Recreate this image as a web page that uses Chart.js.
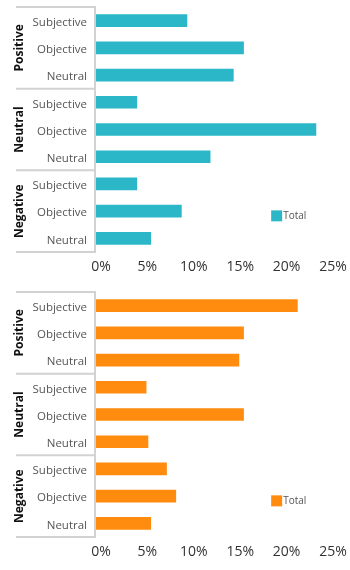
<!DOCTYPE html>
<html lang="en">
<head>
<meta charset="UTF-8">
<title>Sentiment by group</title>
<style>
  body { margin: 0; background: #fff; }
  .box { position: relative; width: 350px; height: 285px; }
</style>
</head>
<body>
<script src="https://cdn.jsdelivr.net/npm/chart.js@4.4.0/dist/chart.umd.min.js"></script>
<div class="box"><canvas id="chartTop"></canvas></div>
<div class="box"><canvas id="chartBottom"></canvas></div>
<script>
    var groups = ['Positive', 'Neutral', 'Negative'];
    var subLabels = ['Subjective', 'Objective', 'Neutral'];
    var xTicks = [0, 5, 10, 15, 20, 25];
    var topValues = [9.8, 15.9, 14.8, 4.4, 23.7, 12.3, 4.4, 9.2, 5.9];
    var bottomValues = [21.7, 15.9, 15.4, 5.4, 15.9, 5.6, 7.6, 8.6, 5.9];

    var labels = [];
    for (var g = 0; g < groups.length; g++) {
        for (var s = 0; s < subLabels.length; s++) {
            labels.push(subLabels[s]);
        }
    }

    // group frame, rotated group names and the little legend
    var groupPlugin = {
        id: 'groupPlugin',
        afterDraw: function (chart) {
            var ctx = chart.ctx;
            var y = chart.scales.y;
            var area = chart.chartArea;
            var lineLeft = 16;
            ctx.save();
            ctx.strokeStyle = '#d2d2d2';
            ctx.lineWidth = 2;
            ctx.beginPath();
            for (var g = 0; g <= groups.length; g++) {
                var py = y.getPixelForValue(g * subLabels.length - 0.5);
                ctx.moveTo(lineLeft, py);
                ctx.lineTo(area.left - 1, py);
            }
            ctx.moveTo(area.left - 1, y.getPixelForValue(-0.5) - 1);
            ctx.lineTo(area.left - 1, y.getPixelForValue(labels.length - 0.5) + 1);
            ctx.stroke();

            ctx.fillStyle = '#111';
            ctx.font = 'bold 12px "Open Sans"';
            ctx.textAlign = 'center';
            ctx.textBaseline = 'middle';
            for (var i = 0; i < groups.length; i++) {
                var mid = y.getPixelForValue(i * subLabels.length + 1);
                ctx.save();
                ctx.translate(20, mid);
                ctx.rotate(-Math.PI / 2);
                ctx.fillText(groups[i], 0, 0);
                ctx.restore();
            }

            var ds = chart.data.datasets[0];
            var lx = area.left + (area.right - area.left) * 0.755;
            var ly = area.top + (area.bottom - area.top) * 0.83;
            ctx.fillStyle = ds.backgroundColor;
            ctx.fillRect(lx, ly, 11, 11);
            ctx.fillStyle = '#555';
            ctx.font = '10px "Open Sans"';
            ctx.textAlign = 'left';
            ctx.fillText(ds.label, lx + 12, ly + 6);
            ctx.restore();
        }
    };

    function makeChart(id, values, color) {
        return new Chart(document.getElementById(id), {
            type: 'bar',
            data: {
                labels: labels,
                datasets: [{
                    label: 'Total',
                    data: values,
                    backgroundColor: color,
                    barThickness: 12
                }]
            },
            options: {
                indexAxis: 'y',
                responsive: true,
                maintainAspectRatio: false,
                animation: false,
                layout: { padding: { top: 7, right: 22, bottom: 0, left: 0 } },
                plugins: {
                    legend: { display: false },
                    tooltip: { enabled: false }
                },
                scales: {
                    x: {
                        min: 0,
                        max: 25,
                        afterBuildTicks: function (scale) {
                            scale.ticks = xTicks.map(function (v) { return { value: v }; });
                        },
                        afterFit: function (scale) {
                            scale.height = 33;
                            scale.paddingLeft = 0;
                            scale.paddingRight = 0;
                        },
                        grid: { display: false, drawTicks: false },
                        border: { display: false },
                        ticks: {
                            color: '#333',
                            font: { family: 'Open Sans', size: 14 },
                            padding: 7,
                            labelOffset: 5,
                            maxRotation: 0,
                            callback: function (v) { return v + '%'; }
                        }
                    },
                    y: {
                        afterFit: function (scale) {
                            scale.width = 96;
                            scale.paddingTop = 0;
                            scale.paddingBottom = 0;
                        },
                        grid: { display: false, drawTicks: false },
                        border: { display: false },
                        ticks: {
                            color: '#555',
                            font: { family: 'Open Sans', size: 11.5 },
                            padding: 9,
                            labelOffset: 2,
                            autoSkip: false
                        }
                    }
                }
            },
            plugins: [groupPlugin]
        });
    }

    makeChart('chartTop', topValues, '#2bb7c8');
    makeChart('chartBottom', bottomValues, '#ff8b0f');
</script>
</body>
</html>
